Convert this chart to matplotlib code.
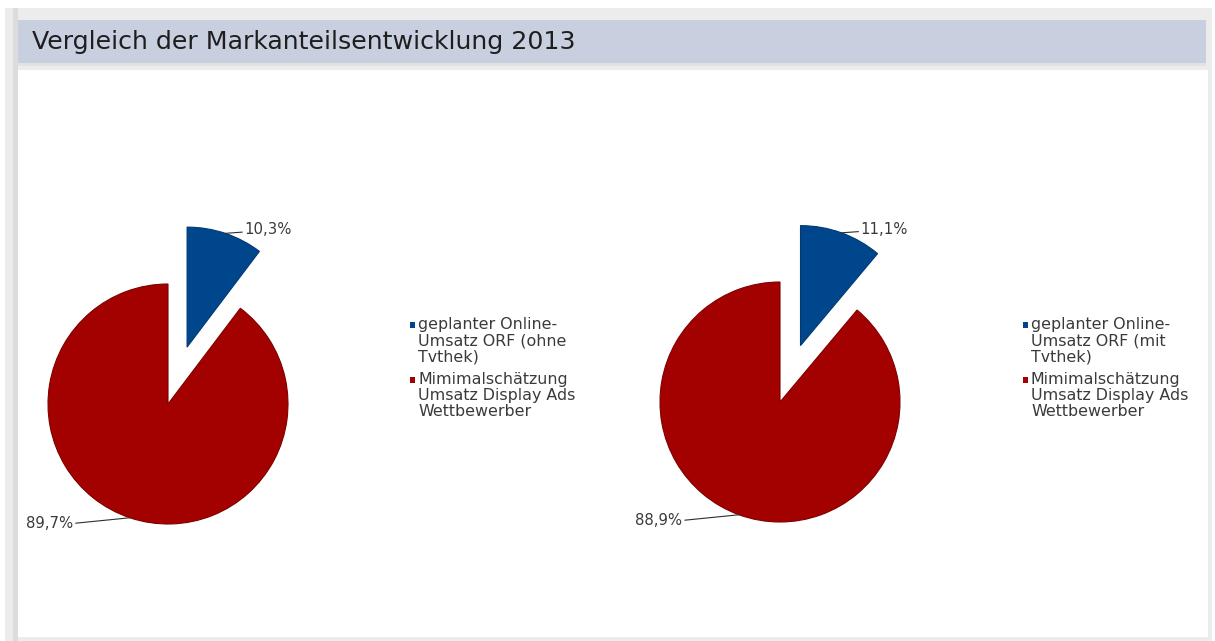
import matplotlib
matplotlib.use("Agg")
import matplotlib.pyplot as plt
from matplotlib.patches import Rectangle
import numpy as np

plt.rcParams['font.family'] = ['DejaVu Sans']

title = "Vergleich der Markanteilsentwicklung 2013"
labels_left = ["geplanter Online-\nUmsatz ORF (ohne\nTvthek)",
               "Mimimalschätzung\nUmsatz Display Ads\nWettbewerber"]
labels_right = ["geplanter Online-\nUmsatz ORF (mit\nTvthek)",
                "Mimimalschätzung\nUmsatz Display Ads\nWettbewerber"]
values_left = [10.3, 89.7]
values_right = [11.1, 88.9]
pct_left = ["10,3%", "89,7%"]
pct_right = ["11,1%", "88,9%"]
colors = ["#00468c", "#a30000"]
edge_colors = ["#003a75", "#7e0000"]

W, H = 1215, 641
fig = plt.figure(figsize=(W / 100, H / 100), dpi=100)
fig.patch.set_facecolor("white")


def rect(x0, y0, x1, y1, color, z=-10):
    fig.patches.append(Rectangle((x0 / W, 1 - y1 / H), (x1 - x0) / W, (y1 - y0) / H,
                                 transform=fig.transFigure, facecolor=color,
                                 edgecolor="none", zorder=z))


# frame
rect(5, 8, 1212, 641, "#ececec", -12)
rect(13, 8, 18, 641, "#dcdcdc", -11)
rect(18, 70, 1208, 637, "white", -10)
rect(18, 20, 1206, 63, "#c8cfdf", -10)
rect(18, 63, 1206, 66, "#e2e2e2", -10)
fig.text(32 / W, 1 - 42 / H, title, fontsize=18.2, color="#1e1e1e",
         ha="left", va="center")

R = 120.0
TXT = "#3a3a3a"


def draw_pie(cx, cy, values, pcts, labels, legx):
    half = 200
    ax = fig.add_axes([(cx - half) / W, 1 - (cy + half) / H, 2 * half / W, 2 * half / H])
    ax.patch.set_alpha(0)
    lim = half / R
    wedges, _ = ax.pie(values, colors=colors, startangle=90, counterclock=False,
                       explode=[0.5, 0.0], radius=1.0, center=(0, 0),
                       wedgeprops=dict(linewidth=0.8))
    for w, ec in zip(wedges, edge_colors):
        w.set_edgecolor(ec)
    ax.set_xlim(-lim, lim)
    ax.set_ylim(-lim, lim)
    ax.set_aspect("equal")
    ax.set_axis_off()
    for i, w in enumerate(wedges):
        th = np.deg2rad((w.theta1 + w.theta2) / 2)
        px = w.center[0] + w.r * np.cos(th)
        py = w.center[1] + w.r * np.sin(th)
        if i == 0:
            lx, ly = px + 0.14, py + 0.01
            ax.plot([px, lx], [py, ly], color="#2e2e2e", lw=0.8, clip_on=False)
            ax.text(lx + 0.02, ly + 0.02, pcts[i], fontsize=10.7, color=TXT,
                    ha="left", va="center")
        else:
            lx, ly = px - 0.45, py - 0.045
            ax.plot([px, lx], [py, ly], color="#2e2e2e", lw=0.8, clip_on=False)
            ax.text(lx - 0.02, ly, pcts[i], fontsize=10.7, color=TXT,
                    ha="right", va="center")
    # legend (manual, marker aligned to first line)
    ys = [325, 380]
    for i, lab in enumerate(labels):
        y = ys[i]
        rect(legx, y - 3, legx + 5, y + 2.5, colors[i], z=3)
        fig.text((legx + 8) / W, 1 - (y - 8) / H, lab, fontsize=11.4, color=TXT,
                 ha="left", va="top", linespacing=1.1)


draw_pie(168, 404, values_left, pct_left, labels_left, 410)
draw_pie(780, 402, values_right, pct_right, labels_right, 1023)

fig.savefig("out.png", dpi=100, facecolor=fig.get_facecolor())
